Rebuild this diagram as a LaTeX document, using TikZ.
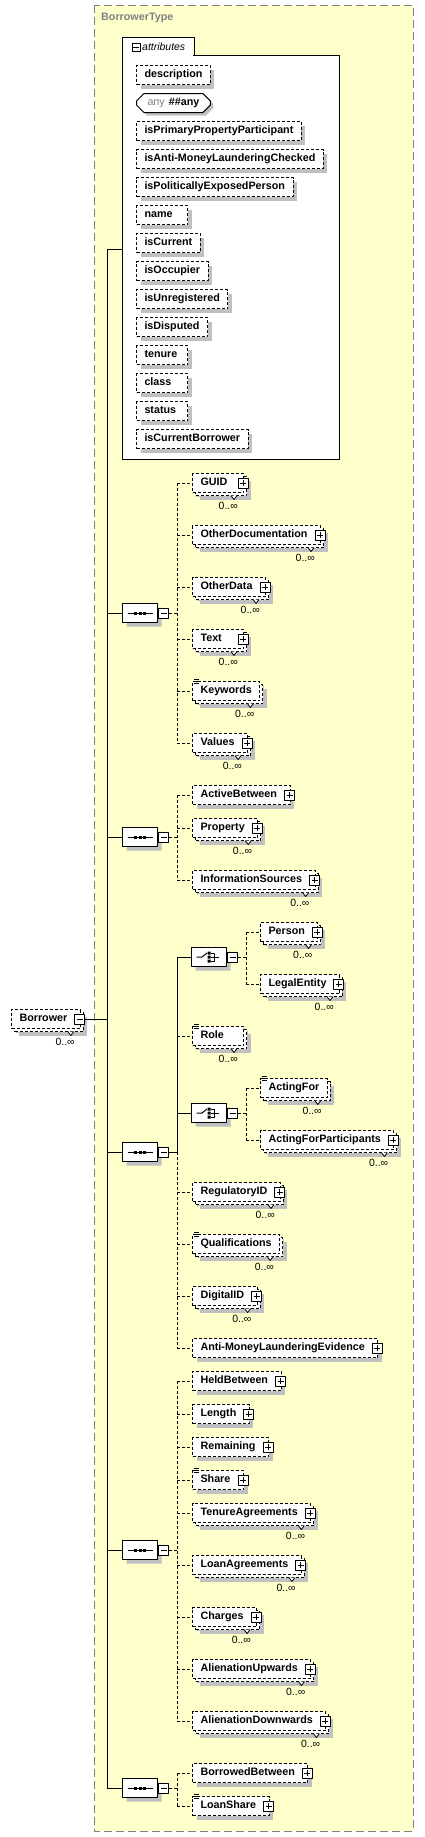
\documentclass[tikz,border=0pt]{standalone}
\usepackage{fontspec}
\setmainfont{Liberation Sans}
\usetikzlibrary{positioning,calc,shapes.misc,shadows}

\definecolor{typefill}{RGB}{255,255,204}
\definecolor{typeline}{RGB}{128,128,128}
\definecolor{shadowgray}{RGB}{192,192,192}

\newcommand{\elfont}{\fontsize{10.8}{13}\selectfont\bfseries}
\newcommand{\occfont}{\fontsize{10.5}{12}\selectfont}
% element text is left aligned in a box of at least 35bp
\newsavebox{\elsave}
\newdimen\elwd
\newcommand{\elgap}{0bp}
\newcommand{\elfit}{\elwd=\wd\elsave \advance\elwd by \elgap\relax
  \ifdim\elwd<35bp \elwd=35bp \fi \hbox to \elwd{\unhbox\elsave\hfil}}

\tikzset{
  conn/.style={line width=1bp, dash pattern=on 3bp off 2bp},
  link/.style={line width=1bp},
  shade box/.style={drop shadow={shadow xshift=#1, shadow yshift=-#1, fill=shadowgray, opacity=1}},
  elem/.style={draw, fill=white, line width=1bp, dash pattern=on 3bp off 2bp, anchor=west,
    font=\elfont, inner xsep=8bp, inner ysep=0pt, minimum height=19bp,
    text height=8bp, text depth=2.5bp, shade box=4bp,
    execute at begin node={\setbox\elsave=\hbox\bgroup},
    execute at end node={\egroup\elfit}},
  many/.style={shade box=7bp, copy shadow={shadow xshift=3bp, shadow yshift=-3bp,
    draw=black, fill=white, line width=1bp, dash pattern=on 3bp off 2bp}},
  cplx/.style={/utils/exec={\def\elgap{5bp}}},
  attrbox/.style={elem},
  anybox/.style={chamfered rectangle, chamfered rectangle xsep=4bp, draw, solid, fill=white,
    line width=1bp, anchor=west, font=\elfont, inner xsep=7bp, inner ysep=0pt,
    minimum height=19bp, text height=8bp, text depth=2.5bp, shade box=3bp},
  pmbox/.style={draw, solid, fill=white, line width=1bp, minimum size=10bp, inner sep=0pt},
  minusbox/.style={pmbox, path picture={\draw[line width=1bp, shift={(path picture bounding box.center)}] (-3,0) -- (3,0);}},
  plusbox/.style={pmbox, path picture={\draw[line width=1bp, shift={(path picture bounding box.center)}] (-3,0) -- (3,0) (0,-3) -- (0,3);}},
  compositor/.style={chamfered rectangle, chamfered rectangle xsep=5bp, draw, solid, fill=white,
    line width=1bp, minimum width=35bp, minimum height=19bp, inner sep=0pt, anchor=west, shade box=4bp},
  seq/.style={compositor, path picture={
    \begin{scope}[shift={(path picture bounding box.center)}]
      \draw[line width=1bp] (-12.5,0) -- (12.5,0);
      \foreach \d in {-4.5,0,4.5} \fill[black] ({\d-1.5},-1.5) rectangle +(3,3);
    \end{scope}}},
  choice/.style={compositor, path picture={
    \begin{scope}[shift={(path picture bounding box.center)}, line width=1bp]
      \draw (-12.5,0) -- (-7,0) -- (-2,-4);
      \fill[black] (-1.5,-5.5) rectangle +(3,3) (-1.5,-1.5) rectangle +(3,3) (-1.5,2.5) rectangle +(3,3);
      \draw (1.5,-4) -- (5,-4) -- (5,4) -- (1.5,4) (1.5,0) -- (10,0);
    \end{scope}}},
  occ/.style={font=\occfont, anchor=east, inner sep=0pt},
}

\begin{document}
\begin{tikzpicture}[x=1bp, y=-1bp, line join=round]
\useasboundingbox (0,0) rectangle (424,1837);
% complex type frame
\draw[typeline, fill=typefill, line width=1bp, dash pattern=on 8bp off 4bp] (94,5) rectangle (413,1831);
\node[anchor=west, inner sep=0pt, text=typeline, font=\elfont] (tname) at (101,18) {BorrowerType};

% attributes
\node[draw, fill=white, line width=1bp, anchor=north west, minimum width=217bp, minimum height=404bp, inner sep=0pt] (attr) at (122,55) {};
\fill[white] (123,37) rectangle (193,56);
\draw[line width=1bp] (attr.north west) -- ++(0,-18) -- ++(72,0) -- ++(0,18);
\node[minusbox, minimum size=8bp] (amin) at (136,47) {};
\node[anchor=west, inner sep=0pt, font=\occfont\itshape] (atab) at (142,47) {attributes};
\foreach \a/\i in {description/0, isPrimaryPropertyParticipant/2, isAnti-MoneyLaunderingChecked/3,
  isPoliticallyExposedPerson/4, name/5, isCurrent/6, isOccupier/7, isUnregistered/8, isDisputed/9,
  tenure/10, class/11, status/12, isCurrentBorrower/13}
  \node[attrbox] (at\i) at (136,{75+28*\i}) {\a};
\node[anybox] (at1) at (136,103) {{\mdseries\color{typeline}any}\hspace{4bp}\#\#any};

% root element
\node[elem, many, cplx] (borrower) at (11,1019) {Borrower};
\node[minusbox] (bmin) at ([xshift=-1bp]borrower.east) {};

% compositors
\node[seq] (s1) at (122,613) {};
\node[minusbox, right=0pt of s1] (m1) {};
\node[seq] (s2) at (122,837) {};
\node[minusbox, right=0pt of s2] (m2) {};
\node[seq] (s3) at (122,1152) {};
\node[minusbox, right=0pt of s3] (m3) {};
\node[seq] (s4) at (122,1550) {};
\node[minusbox, right=0pt of s4] (m4) {};
\node[seq] (s5) at (122,1788) {};
\node[minusbox, right=0pt of s5] (m5) {};
\node[choice] (c1) at (191,957) {};
\node[minusbox, right=0pt of c1] (cm1) {};
\node[choice] (c2) at (191,1113) {};
\node[minusbox, right=0pt of c2] (cm2) {};

% elements
\node[elem, many, cplx] (guid)   at (192,483)  {GUID};
\node[elem, many, cplx] (odoc)   at (192,535)  {OtherDocumentation};
\node[elem, many, cplx] (odata)  at (192,587)  {OtherData};
\node[elem, many, cplx] (txt)    at (192,639)  {Text};
\node[elem, many]       (keyw)   at (192,691)  {Keywords};
\node[elem, many, cplx] (values) at (192,743)  {Values};
\node[elem, cplx]       (actb)   at (192,795)  {ActiveBetween};
\node[elem, many, cplx] (prop)   at (192,828)  {Property};
\node[elem, many, cplx] (isrc)   at (192,880)  {InformationSources};
\node[elem, many, cplx] (person) at (260,932)  {Person};
\node[elem, many, cplx] (legal)  at (260,984)  {LegalEntity};
\node[elem, many]       (role)   at (192,1036) {Role};
\node[elem, many]       (actf)   at (260,1088) {ActingFor};
\node[elem, many, cplx] (actfp)  at (260,1140) {ActingForParticipants};
\node[elem, many, cplx] (regid)  at (192,1192) {RegulatoryID};
\node[elem, many]       (qual)   at (192,1244) {Qualifications};
\node[elem, many, cplx] (digid)  at (192,1296) {DigitalID};
\node[elem, cplx]       (amle)   at (192,1348) {Anti-MoneyLaunderingEvidence};
\node[elem, cplx]       (held)   at (192,1381) {HeldBetween};
\node[elem, cplx]       (length) at (192,1414) {Length};
\node[elem, cplx]       (remain) at (192,1447) {Remaining};
\node[elem, cplx]       (share)  at (192,1480) {Share};
\node[elem, many, cplx] (tenure) at (192,1513) {TenureAgreements};
\node[elem, many, cplx] (loanag) at (192,1565) {LoanAgreements};
\node[elem, many, cplx] (charges) at (192,1617) {Charges};
\node[elem, many, cplx] (alup)   at (192,1669) {AlienationUpwards};
\node[elem, many, cplx] (aldown) at (192,1721) {AlienationDownwards};
\node[elem, cplx]       (borrb)  at (192,1773) {BorrowedBetween};
\node[elem, cplx]       (loansh) at (192,1806) {LoanShare};

% expand boxes, occurrences, simple content marks
\foreach \n in {guid,odoc,odata,txt,values,actb,prop,isrc,person,legal,actfp,regid,digid,amle,
  held,length,remain,share,tenure,loanag,charges,alup,aldown,borrb,loansh}
  \node[plusbox] (p\n) at ([xshift=-1bp]\n.east) {};
\foreach \n in {borrower,guid,odoc,odata,txt,keyw,values,prop,isrc,person,legal,role,actf,actfp,
  regid,qual,digid,tenure,loanag,charges,alup,aldown} {
  \draw[line width=0.8bp, fill=white] ($(\n.east)+(-13,12.5)$) -- ++(3,4) -- ++(3,-4);
  \node[occ] (o\n) at ($(\n.east)+(-6,23)$) {0..∞};
}
\foreach \n in {keyw,role,actf,qual,share,loansh}
  \draw[line width=0.7bp] ($(\n.north west)+(2,-2)$) -- +(5,0) ($(\n.north west)+(2,0)$) -- +(5,0)
    ($(\n.north west)+(2,2)$) -- +(5,0);

% trunk
\coordinate (trk) at (107,0);
\coordinate (ahook) at (122,249);
\draw[link] (bmin.east) -- (bmin.east -| trk);
\draw[link] (ahook -| trk) -- (ahook) (ahook -| trk) -- (s5.west -| trk);
\foreach \s in {s1,s2,s3,s4,s5} \draw[link] (\s.west -| trk) -- (\s.west);

% sequence branches
\coordinate (sv) at (177,0);
\coordinate (cv) at (246,0);
\foreach \m/\fst/\lst in {m1/guid/values, m2/actb/isrc, m4/held/aldown, m5/borrb/loansh}
  \draw[conn] (\m.east) -- (\m.east -| sv) (sv |- \fst.west) -- (sv |- \lst.west);
\foreach \n in {guid,odoc,odata,txt,keyw,values,actb,prop,isrc,role,regid,qual,digid,amle,
  held,length,remain,share,tenure,loanag,charges,alup,aldown,borrb,loansh}
  \draw[conn] (sv |- \n.west) -- (\n.west);
\draw[link] (m3.east) -- (m3.east -| sv) (sv |- c1.west) -- (sv |- m3.east)
  (sv |- c1.west) -- (c1.west) (sv |- c2.west) -- (c2.west);
\draw[conn] (sv |- m3.east) -- (sv |- amle.west);

% choice branches
\foreach \m/\fst/\lst in {cm1/person/legal, cm2/actf/actfp}
  \draw[conn] (\m.east) -- (\m.east -| cv) (cv |- \fst.west) -- (cv |- \lst.west);
\foreach \n in {person,legal,actf,actfp}
  \draw[conn] (cv |- \n.west) -- (\n.west);
\end{tikzpicture}
\end{document}
